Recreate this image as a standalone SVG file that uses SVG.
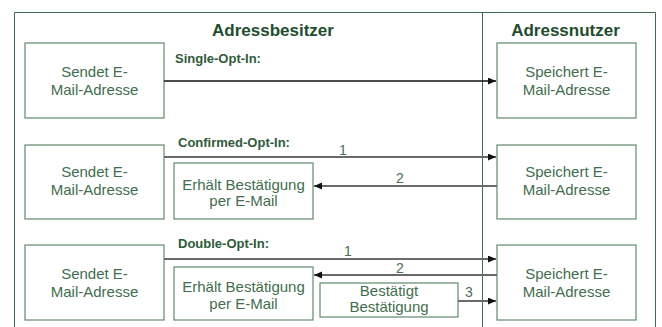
<svg xmlns="http://www.w3.org/2000/svg" width="662" height="327" viewBox="0 0 662 327">
<defs>
<marker id="ah" markerWidth="9" markerHeight="8" refX="8" refY="3.5" orient="auto" markerUnits="userSpaceOnUse">
<path d="M0,0 L8,3.5 L0,7 Z" fill="#111"/>
</marker>
<style>
.frame{fill:none;stroke:#3d6b4f;stroke-width:1}
.box{fill:#fff;stroke:#5f8a6c;stroke-width:1.2}
.t{font-family:"Liberation Sans",Arial,sans-serif;font-size:15px;fill:#3f6e4d;text-anchor:middle}
.h{font-family:"Liberation Sans",Arial,sans-serif;font-size:17px;font-weight:bold;fill:#1f4d2e;text-anchor:middle}
.l{font-family:"Liberation Sans",Arial,sans-serif;font-size:13px;font-weight:bold;fill:#2f5a3c}
.n{font-family:"Liberation Sans",Arial,sans-serif;font-size:14px;fill:#4a6e55;text-anchor:middle}
.c{stroke:#6a6a6a;stroke-width:2;fill:none}
.c1{stroke:#111;stroke-width:1.3;fill:none}
</style>
</defs>
<rect width="662" height="327" fill="#fff"/>
<g id="frame">
<path class="frame" d="M14.5,330 V12.5 H655.5 V330"/>
<line class="frame" x1="482.5" y1="12.5" x2="482.5" y2="330"/>
<text class="h" x="273" y="36">Adressbesitzer</text>
<text class="h" x="565.5" y="36">Adressnutzer</text>
<text class="l" x="175" y="63">Single-Opt-In:</text>
<text class="l" x="178" y="147">Confirmed-Opt-In:</text>
<text class="l" x="178" y="248">Double-Opt-In:</text>
</g>
<g id="s1">
<rect class="box" x="25" y="43" width="139" height="75"/>
<text class="t" x="94.5" y="77">Sendet E-</text>
<text class="t" x="94.5" y="95">Mail-Adresse</text>
</g>
<g id="r1">
<rect class="box" x="497" y="43" width="139" height="75"/>
<text class="t" x="566.5" y="77">Speichert E-</text>
<text class="t" x="566.5" y="95">Mail-Adresse</text>
</g>
<g id="s2">
<rect class="box" x="25" y="145" width="139" height="74"/>
<text class="t" x="94.5" y="177">Sendet E-</text>
<text class="t" x="94.5" y="195">Mail-Adresse</text>
</g>
<g id="e2">
<rect class="box" x="174" y="163" width="139" height="56"/>
<text class="t" x="243.5" y="190">Erhält Bestätigung</text>
<text class="t" x="243.5" y="206">per E-Mail</text>
</g>
<g id="r2">
<rect class="box" x="497" y="145" width="139" height="74"/>
<text class="t" x="566.5" y="177">Speichert E-</text>
<text class="t" x="566.5" y="195">Mail-Adresse</text>
</g>
<g id="s3">
<rect class="box" x="25" y="245" width="139" height="75"/>
<text class="t" x="94.5" y="279">Sendet E-</text>
<text class="t" x="94.5" y="297">Mail-Adresse</text>
</g>
<g id="e3">
<rect class="box" x="174" y="267" width="139" height="53"/>
<text class="t" x="243.5" y="292">Erhält Bestätigung</text>
<text class="t" x="243.5" y="309">per E-Mail</text>
</g>
<g id="b3">
<rect class="box" x="320" y="283" width="138" height="34"/>
<text class="t" x="389" y="296">Bestätigt</text>
<text class="t" x="389" y="312">Bestätigung</text>
</g>
<g id="r3">
<rect class="box" x="497" y="245" width="139" height="75"/>
<text class="t" x="566.5" y="279">Speichert E-</text>
<text class="t" x="566.5" y="297">Mail-Adresse</text>
</g>
<g id="connectors">
<line class="c1" x1="164" y1="81" x2="496" y2="81" marker-end="url(#ah)"/>
<line class="c" x1="164" y1="157" x2="496" y2="157" marker-end="url(#ah)"/>
<text class="n" x="343" y="155">1</text>
<line class="c" x1="497" y1="186" x2="314" y2="186" marker-end="url(#ah)"/>
<text class="n" x="400" y="183">2</text>
<line class="c" x1="164" y1="259" x2="496" y2="259" marker-end="url(#ah)"/>
<text class="n" x="348" y="256">1</text>
<line class="c" x1="497" y1="275" x2="314" y2="275" marker-end="url(#ah)"/>
<text class="n" x="400" y="273">2</text>
<line class="c" x1="458" y1="301" x2="496" y2="301" marker-end="url(#ah)"/>
<text class="n" x="469" y="297">3</text>
</g>
</svg>
